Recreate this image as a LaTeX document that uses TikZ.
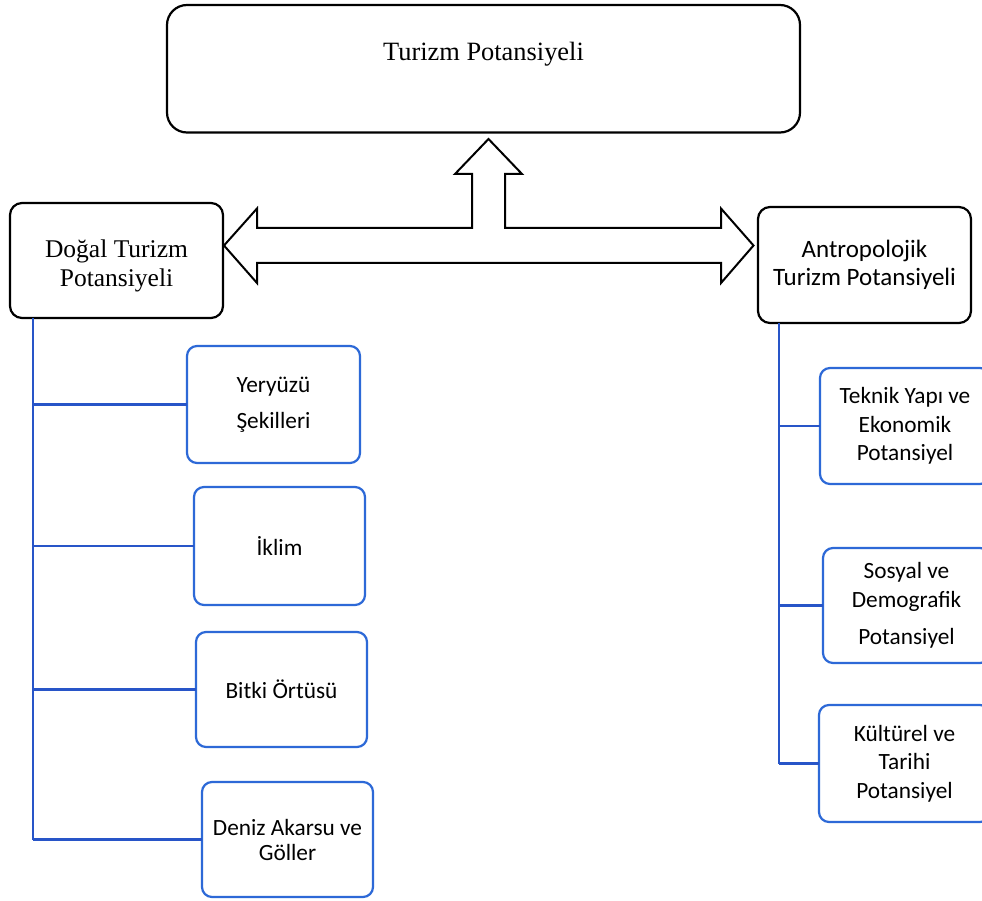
\documentclass[tikz,border=0pt]{standalone}
\usepackage{fontspec}
\setmainfont{Liberation Serif}
\newfontfamily\calfont{Carlito}
\definecolor{boxblue}{RGB}{45,105,215}
\definecolor{lineblue}{RGB}{40,85,200}
\begin{document}
\begin{tikzpicture}[x=1pt,y=-1pt,
  blackbox/.style={draw=black, line width=2.2pt, rounded corners=12pt, inner sep=0pt, outer sep=0pt, align=center, fill=white, font=\fontsize{25.5}{28}\selectfont},
  bluebox/.style={draw=boxblue, line width=2.2pt, rounded corners=10pt, inner sep=0pt, outer sep=0pt, align=center, fill=white, font=\calfont\fontsize{23.3}{28.5}\selectfont},
  conn/.style={draw=lineblue, line width=2.2pt},
  bigarrow/.style={draw=black, line width=2pt, fill=white, line join=miter}]
\fill[white] (0,0) rectangle (982,901);
\path[use as bounding box] (0,0) rectangle (982,901);
\clip (0,0) rectangle (982,901);

% top and parent boxes
\node[blackbox, minimum width=633pt, minimum height=127.5pt, rounded corners=20pt,
      font=\fontsize{26.4}{30}\selectfont, text height=18pt, text depth=34pt]
      (top) at (483.5,68.75) {Turizm Potansiyeli};
\node[blackbox, minimum width=213pt, minimum height=115pt,
      label={[align=center, font=\fontsize{25.5}{29}\selectfont, yshift=-5pt]center:{Doğal Turizm\\Potansiyeli}}]
      (dogal) at (116.5,260.5) {};
\node[blackbox, minimum width=213pt, minimum height=116pt, font=\calfont\fontsize{25}{28}\selectfont]
      (antro) at (864.5,265) {Antropolojik\\Turizm Potansiyeli};

% left children
\node[bluebox, minimum width=173pt, minimum height=117pt] (yer) at (273.5,404.5) {Yeryüzü\\[7.5pt]Şekilleri};
\node[bluebox, minimum width=171pt, minimum height=118pt] (iklim) at (279.5,546) {İklim};
\node[bluebox, minimum width=171pt, minimum height=115pt] (bitki) at (281.5,689.5) {Bitki Örtüsü};
\node[bluebox, minimum width=171pt, minimum height=115pt] (deniz) at (287.5,839.5) {Deniz Akarsu ve\\[-3.5pt]Göller};

% right children
\node[bluebox, minimum width=170pt, minimum height=116pt] (teknik) at (905,426) {Teknik Yapı ve\\Ekonomik\\Potansiyel};
\node[bluebox, minimum width=167pt, minimum height=115pt] (sosyal) at (906.5,605.5) {Sosyal ve\\Demografik\\[9pt]Potansiyel};
\node[bluebox, minimum width=171pt, minimum height=117pt] (kultur) at (904.5,763.5) {Kültürel ve\\Tarihi\\Potansiyel};

% connectors
\coordinate (lv) at ([xshift=23pt]dogal.south west);
\draw[conn] (lv) -- (lv |- deniz.west);
\foreach \n in {yer,iklim,bitki,deniz} \draw[conn] (lv |- \n.west) -- (\n.west);
\coordinate (rv) at ([xshift=21pt]antro.south west);
\draw[conn] (rv) -- (rv |- kultur.west);
\foreach \n in {teknik,sosyal,kultur} \draw[conn] (rv |- \n.west) -- (\n.west);

% block arrow
\draw[bigarrow] (224,245.5) -- (257,208.5) -- (257,228) -- (472,228) -- (472,174) -- (455,174)
  -- (488.5,139) -- (522,174) -- (505,174) -- (505,228) -- (721,228) -- (721,208.5)
  -- (753.5,245.5) -- (721,283) -- (721,263) -- (257,263) -- (257,283) -- cycle;
\end{tikzpicture}
\end{document}
